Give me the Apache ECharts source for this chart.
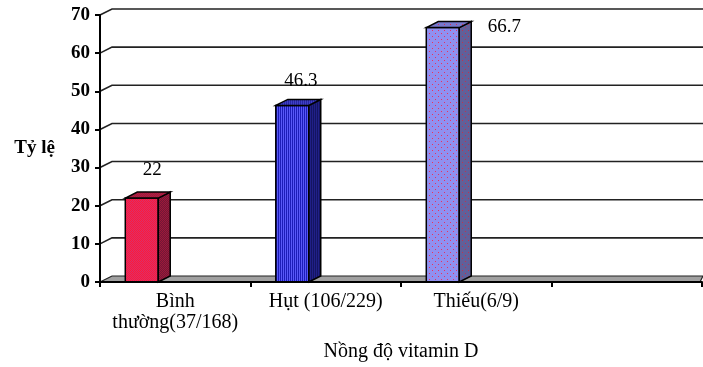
<!DOCTYPE html>
<html><head><meta charset="utf-8">
<script src="https://cdn.jsdelivr.net/npm/echarts@6/dist/echarts.min.js"></script>
<style>html,body{margin:0;padding:0;background:#fff}#c{width:703px;height:367px}</style>
</head><body><div id="c"></div>
<script>
// ---- data ----
const categories = ['Bình\nthường(37/168)', 'Hụt (106/229)', 'Thiếu(6/9)', ''];
const values = [22, 46.3, 66.7];
const valueLabels = ['22', '46.3', '66.7'];
const yTicks = [0, 10, 20, 30, 40, 50, 60, 70];
const yAxisTitle = 'Tỷ lệ';
const xAxisTitle = 'Nồng độ vitamin D';

// ---- style config ----
const DX = 12, DY = -6;
const labelOffsets = [[10.5, -28], [8.5, -24], [61.5, -1]];
const SERIF = '"Liberation Serif", "DejaVu Serif", serif';

function pattern(w, h, draw) {
  const c = document.createElement('canvas'); c.width = w; c.height = h;
  const g = c.getContext('2d'); draw(g);
  return { image: c, repeat: 'repeat' };
}
function checker(a, b) {
  return pattern(2, 2, g => { g.fillStyle = a; g.fillRect(0, 0, 2, 2); g.fillStyle = b; g.fillRect(1, 0, 1, 1); g.fillRect(0, 1, 1, 1); });
}
function stripes(a, b) {
  return pattern(2, 1, g => { g.fillStyle = a; g.fillRect(0, 0, 2, 1); g.fillStyle = b; g.fillRect(1, 0, 1, 1); });
}
function dots(a, b) {
  return pattern(6, 6, g => { g.fillStyle = a; g.fillRect(0, 0, 6, 6); g.fillStyle = b; g.fillRect(0, 0, 1, 1); g.fillRect(3, 3, 1, 1); });
}
const barStyles = [
  { front: checker('#ff1838', '#d8306a'), side: checker('#a01838', '#701838'), top: checker('#c01838', '#902048') },
  { front: stripes('#1c1cb8', '#5858f8'), side: stripes('#202088', '#141460'), top: stripes('#2828a0', '#4040c8') },
  { front: dots('#9090f0', '#e83060'), side: dots('#60609a', '#c03050'), top: dots('#7878cc', '#d03058') }
];

const chart = echarts.init(document.getElementById('c'), null, { renderer: 'canvas' });

chart.setOption({
  animation: false,
  backgroundColor: '#fff',
  grid: { left: 100, right: 1, top: 15, bottom: 85 },
  xAxis: {
    type: 'category',
    data: categories,
    z: 10,
    axisLine: { show: true, lineStyle: { color: '#000', width: 2 } },
    axisTick: { show: true, interval: 0, length: 5, lineStyle: { color: '#000', width: 2 } },
    axisLabel: { interval: 0, color: '#000', fontSize: 20, fontFamily: SERIF, lineHeight: 21, margin: 9 },
    splitLine: { show: false },
    name: xAxisTitle,
    nameLocation: 'middle',
    nameGap: 60,
    nameTextStyle: { color: '#000', fontSize: 20, fontFamily: SERIF }
  },
  yAxis: {
    type: 'value',
    min: 0, max: 70, interval: 10,
    z: 10,
    axisLine: { show: true, lineStyle: { color: '#000', width: 2 } },
    axisTick: { show: true, length: 5, lineStyle: { color: '#000', width: 2 } },
    axisLabel: { color: '#000', fontSize: 19, fontWeight: 'bold', fontFamily: SERIF, margin: 10 },
    splitLine: { show: false },
    name: yAxisTitle,
    nameLocation: 'middle',
    nameRotate: 0,
    nameGap: 45,
    nameTextStyle: { color: '#000', fontSize: 19, fontWeight: 'bold', fontFamily: SERIF }
  },
  series: [
    {
      type: 'custom',
      z: 1,
      silent: true,
      data: yTicks.map(v => [0, v]),
      renderItem(params, api) {
        const cs = params.coordSys;
        const y = api.coord([0, api.value(1)])[1];
        const left = cs.x, right = cs.x + cs.width + 1;
        const children = [];
        if (api.value(1) === 0) {
          children.push({
            type: 'polygon',
            shape: { points: [[left, y], [left + DX, y + DY], [right, y + DY], [right - 3, y]] },
            style: { fill: '#a0a0a0', stroke: '#222', lineWidth: 1.2 }
          });
        } else {
          children.push({
            type: 'polyline',
            shape: { points: [[left, y], [left + DX, y + DY], [right, y + DY]] },
            style: { fill: null, stroke: '#222', lineWidth: 1.6 }
          });
        }
        return { type: 'group', children };
      }
    },
    {
      type: 'custom',
      z: 3,
      data: values.map((v, i) => [i, v]),
      renderItem(params, api) {
        const i = params.dataIndex;
        const p = api.coord([api.value(0), api.value(1)]);
        const base = api.coord([api.value(0), 0]);
        const band = api.size([1, 0])[0];
        const x0 = p[0] - band * 0.332, w = band * 0.219;
        const yT = p[1], yB = base[1];
        const st = barStyles[i];
        const stroke = { stroke: '#000', lineWidth: 1.5 };
        return {
          type: 'group',
          children: [
            { type: 'rect', shape: { x: x0, y: yT, width: w, height: yB - yT }, style: Object.assign({ fill: st.front }, stroke) },
            { type: 'polygon', shape: { points: [[x0 + w, yT], [x0 + w + DX, yT + DY], [x0 + w + DX, yB + DY], [x0 + w, yB]] }, style: Object.assign({ fill: st.side }, stroke) },
            { type: 'polygon', shape: { points: [[x0, yT], [x0 + DX, yT + DY], [x0 + w + DX, yT + DY], [x0 + w, yT]] }, style: Object.assign({ fill: st.top }, stroke) },
            {
              type: 'text',
              style: {
                text: valueLabels[i],
                x: x0 + w / 2 + labelOffsets[i][0],
                y: yT + labelOffsets[i][1],
                fill: '#000',
                font: '19px ' + SERIF,
                align: 'center',
                verticalAlign: 'middle'
              }
            }
          ]
        };
      }
    }
  ]
});
</script>
</body></html>
